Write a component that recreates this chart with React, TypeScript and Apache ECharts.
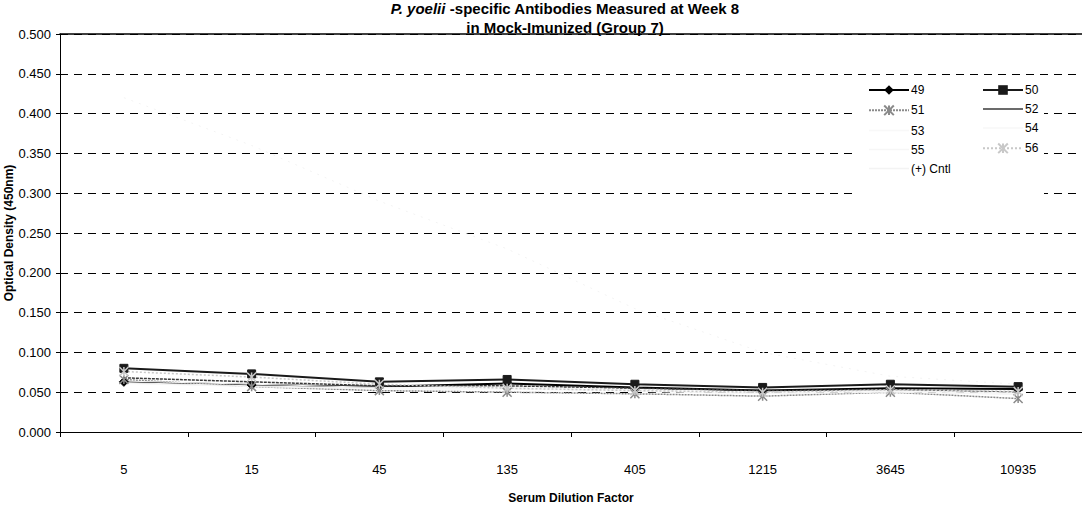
import React, { useEffect, useRef } from "react";
import * as echarts from "echarts";

const categories = ["5", "15", "45", "135", "405", "1215", "3645", "10935"];
const s49 = [0.063, 0.059, 0.057, 0.061, 0.056, 0.052, 0.055, 0.054];
const s50 = [0.080, 0.073, 0.063, 0.066, 0.060, 0.056, 0.060, 0.057];
const s51 = [0.066, 0.057, 0.052, 0.050, 0.048, 0.045, 0.050, 0.042];
const s52 = [0.068, 0.063, 0.058, 0.058, 0.055, 0.052, 0.053, 0.050];
const s53 = [0.064, 0.060, 0.056, 0.056, 0.053, 0.050, 0.052, 0.049];
const s54 = [0.062, 0.058, 0.055, 0.055, 0.052, 0.049, 0.051, 0.048];
const s55 = [0.061, 0.057, 0.054, 0.054, 0.051, 0.048, 0.050, 0.047];
const s56 = [0.076, 0.069, 0.060, 0.055, 0.052, 0.050, 0.053, 0.051];
const cntl = [0.42, 0.36, 0.29, 0.23, 0.155, 0.1, 0.07, 0.06];
const legendLeftCol = ["49", "51", "53", "55", "(+) Cntl"];
const legendRightCol = ["50", "52", "54", "56"];
const yTicks = { min: 0, max: 0.5, interval: 0.05 };

const X_PATH = "path://M0,0 L10,10 M10,0 L0,10 M5,0 L5,10";
const LINE_ICON = "path://M0,5 L40,5 L40,6.5 L0,6.5 Z";
const FONT = "Liberation Sans, Arial, sans-serif";

export default function App() {
  const ref = useRef<HTMLDivElement>(null);
  useEffect(() => {
    if (!ref.current) return;
    const chart = echarts.init(ref.current, undefined, { renderer: "svg" });
    const mk = (
      name: string,
      data: number[],
      color: string,
      width: number,
      symbol: string,
      size: number,
      lineType: any = "solid",
      stroke = false
    ) => ({
      name,
      type: "line",
      data,
      symbol,
      symbolSize: size,
      showSymbol: symbol !== "none",
      lineStyle: { color, width, type: lineType },
      itemStyle: stroke
        ? { color: "none", borderColor: color, borderWidth: 1.5 }
        : { color, borderColor: color },
      emphasis: { disabled: true },
      z: 3,
    });
    const iconFor = (n: string) =>
      ["52", "53", "54", "55", "(+) Cntl"].includes(n) ? { name: n, icon: LINE_ICON } : { name: n };
    const legendBase = {
      top: 84,
      orient: "vertical",
      itemWidth: 40,
      itemHeight: 12,
      itemGap: 7,
      padding: 0,
      textStyle: { fontSize: 12, fontFamily: FONT, color: "#000", padding: [0, 0, 0, -3] },
      selectedMode: false,
    };
    chart.setOption({
      animation: false,
      backgroundColor: "#ffffff",
      textStyle: { fontFamily: FONT },
      title: {
        left: 560,
        textAlign: "center",
        top: -6,
        text:
          "{i|P. yoelii}{n| -specific Antibodies Measured at Week 8}\n{n|in Mock-Imunized (Group 7)}",
        textStyle: {
          rich: {
            i: { fontStyle: "italic", fontWeight: "bold", fontSize: 15, fontFamily: FONT, color: "#000", lineHeight: 19 },
            n: { fontWeight: "bold", fontSize: 15, fontFamily: FONT, color: "#000", lineHeight: 19 },
          },
        },
      },
      graphic: [
        {
          type: "rect",
          shape: { x: 858, y: 84, width: 186, height: 116 },
          style: { fill: "#ffffff" },
          z: 1,
          silent: true,
        },
      ],
      legend: [
        { ...legendBase, left: 868, data: legendLeftCol.map(iconFor) },
        { ...legendBase, left: 982, data: legendRightCol.map(iconFor) },
      ],
      grid: { left: 60, right: 0, top: 34, bottom: 99, containLabel: false, outerBoundsMode: "none" },
      xAxis: [
        {
          type: "category",
          data: categories,
          boundaryGap: true,
          name: "Serum Dilution Factor",
          nameLocation: "middle",
          nameGap: 60,
          nameTextStyle: { fontWeight: "bold", fontSize: 12, color: "#000", fontFamily: FONT },
          axisLine: { lineStyle: { color: "#000", width: 1 } },
          axisTick: { show: true, length: 5, lineStyle: { color: "#000" } },
          axisLabel: { fontSize: 13, color: "#000", margin: 31, fontFamily: FONT },
          splitLine: { show: false },
        },
        {
          type: "category",
          data: categories,
          position: "top",
          axisLine: { lineStyle: { color: "#000", width: 1.5 } },
          axisTick: { show: false },
          axisLabel: { show: false },
          splitLine: { show: false },
        },
      ],
      yAxis: {
        type: "value",
        min: yTicks.min,
        max: yTicks.max,
        interval: yTicks.interval,
        name: "Optical Density (450nm)",
        nameLocation: "middle",
        nameGap: 45,
        nameMoveOverlap: false,
        nameTextStyle: { fontWeight: "bold", fontSize: 12, color: "#000", fontFamily: FONT },
        axisLine: { show: true, lineStyle: { color: "#000", width: 1 } },
        axisTick: { show: true, length: 4, lineStyle: { color: "#000" } },
        axisLabel: {
          fontSize: 13,
          color: "#000",
          margin: 9,
          fontFamily: FONT,
          formatter: (v: number) => v.toFixed(3),
        },
        splitLine: { show: true, lineStyle: { color: "#000", width: 1, type: [8, 6] } },
      },
      series: [
        mk("49", s49, "#000000", 2, "diamond", 9),
        mk("50", s50, "#1a1a1a", 2, "rect", 8),
        mk("51", s51, "#8a8a8a", 1.5, X_PATH, 9, [2, 1], true),
        mk("52", s52, "#3a3a3a", 1.5, "none", 4, [3, 1]),
        mk("53", s53, "#f8f8f8", 1, "none", 4),
        mk("54", s54, "#f7f7f7", 1, "none", 4),
        mk("55", s55, "#f6f6f6", 1, "none", 4),
        mk("56", s56, "#c8c8c8", 1.5, X_PATH, 9, [2, 2], true),
        mk("(+) Cntl", cntl, "#f3f3f3", 1, "none", 4, [2, 6]),
      ],
    });
    return () => chart.dispose();
  }, []);
  return (
    <div
      ref={ref}
      style={{ position: "fixed", left: 0, top: 0, width: 1082, height: 531, background: "#fff" }}
    />
  );
}
